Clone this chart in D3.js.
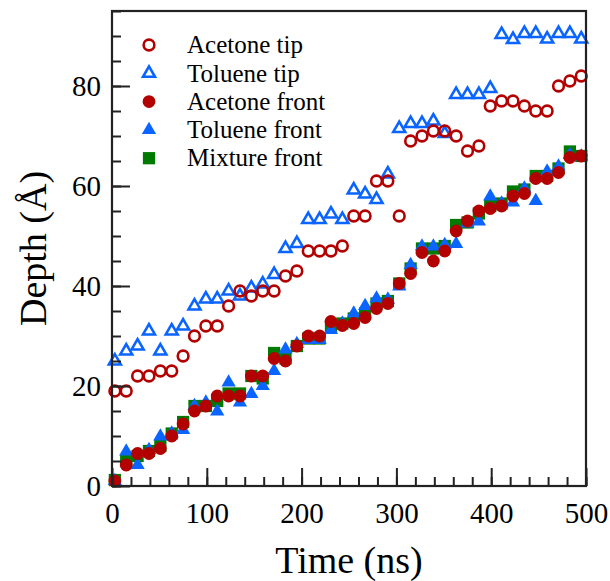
<!DOCTYPE html>
<html>
<head>
<meta charset="utf-8">
<script src="https://cdn.jsdelivr.net/npm/d3@7"></script>
<style>
  body { margin: 0; background: #fff; }
  text { font-family: "Liberation Serif", "Times New Roman", serif; }
</style>
</head>
<body>
<div id="chart"></div>
<script>
// sample times (ns)
const times = [3, 15, 27, 39, 51, 63, 75, 87, 99, 111, 123, 135, 147, 159, 171, 183, 195, 207, 219, 231, 243,
  255, 267, 279, 291, 303, 315, 327, 339, 351, 363, 375, 387, 399, 411, 423, 435, 447, 459, 471, 483, 495];

const acetoneTip = [19, 19, 22, 22, 23, 23, 26, 30, 32, 32, 36, 39, 38, 39, 39, 42, 43, 47, 47, 47, 48,
  54, 54, 61, 61, 54, 69, 70, 71, 71, 70, 67, 68, 76, 77, 77, 76, 75, 75, 80, 81, 82];
const tolueneTip = [25, 27, 28, 31, 27, 31, 32, 36, 37.4, 37.4, 39, 38, 39.6, 40.4, 42.3, 47.5, 48.5, 53.3, 53.3, 54.4, 53.3,
  59.2, 58.4, 57.3, 62.4, 71.5, 72.5, 72.5, 73, 70.5, 78.3, 78.3, 78.3, 79.5, 90.3, 89.3, 90.5, 90.5, 89.4, 90.5, 90.5, 89.4];
const acetoneFront = [1, 4.2, 6.5, 6.5, 7.5, 10, 12.4, 15, 16, 18, 18, 18, 22, 22, 25.5, 25, 28, 30, 30, 32.9, 32.1,
  32.5, 33.7, 35.5, 36.5, 40.5, 42.5, 46.7, 45, 47, 51, 53, 55, 55.5, 56, 58, 58.5, 61.5, 61.5, 62.7, 65.7, 66];
const tolueneFront = [1, 6.9, 4.2, 7.2, 9.9, 10.5, 11.2, 16, 16.7, 14.9, 20.7, 16.7, 18.4, 20, 23, 27.3, 28.4, 29.2, 29.2, 31.2, 32.5,
  34.5, 36, 37.5, 37.3, 39.9, 44.2, 47.9, 47.9, 48.2, 48.4, 52.5, 52.9, 57.9, 56.5, 56.7, 59.5, 57, 62.9, 63.9, 66.2, 65.9];
const mixtureFront = [1.2, 5, 6, 7, 8, 10.5, 12.8, 16, 16, 17, 18.5, 18.5, 22, 21.5, 26.6, 25.5, 28, 29.5, 29.5, 32, 32.5,
  33.5, 34.5, 36.5, 37, 40.5, 43.5, 47.5, 47.5, 48, 52.2, 52.7, 54.5, 56, 56.5, 58.9, 59.3, 62, 62, 63.5, 66.9, 66];

const xMajor = [0, 100, 200, 300, 400, 500];
const yMajor = [0, 20, 40, 60, 80];

const RED = '#b30000', BLUE = '#0a64ff', GREEN = '#007a00';

const series = [
  { name: 'Mixture front', vals: mixtureFront, shape: 'square', fill: GREEN, open: false, legend: 4 },
  { name: 'Toluene front', vals: tolueneFront, shape: 'triangle', fill: BLUE, open: false, legend: 3 },
  { name: 'Acetone front', vals: acetoneFront, shape: 'circle', fill: RED, open: false, legend: 2 },
  { name: 'Toluene tip', vals: tolueneTip, shape: 'triangle', fill: BLUE, open: true, legend: 1 },
  { name: 'Acetone tip', vals: acetoneTip, shape: 'circle', fill: RED, open: true, legend: 0 }
];

const W = 610, H = 581;
const m = { l: 112, r: 24, t: 11, b: 95 };
const iw = W - m.l - m.r, ih = H - m.t - m.b;

const svg = d3.select('#chart').append('svg').attr('width', W).attr('height', H);
const g = svg.append('g').attr('transform', `translate(${m.l},${m.t})`);

const x = d3.scaleLinear().domain([0, 500]).range([0, iw]);
const y = d3.scaleLinear().domain([0, 95]).range([ih, 0]);

function symbolPath(shape, open) {
  if (shape === 'circle') return d3.symbol(d3.symbolCircle, open ? 90 : 128)();
  if (shape === 'triangle') return d3.symbol(d3.symbolTriangle, open ? 62 : 88)();
  return d3.symbol(d3.symbolSquare, 150)();
}

function drawMark(sel, s) {
  sel.append('path')
    .attr('d', symbolPath(s.shape, s.open))
    .attr('fill', s.open ? 'none' : s.fill)
    .attr('stroke', s.open ? s.fill : 'none')
    .attr('stroke-width', s.open ? 2.6 : 0);
}

series.forEach(s => {
  const pts = g.append('g').selectAll('g').data(s.vals).join('g')
    .attr('transform', (d, i) => `translate(${x(times[i])},${y(d)})`);
  pts.each(function () { drawMark(d3.select(this), s); });
});

// axes: minor + major ticks pointing inward
const fs = 29;
g.append('g').attr('transform', `translate(0,${ih})`)
  .call(d3.axisBottom(x).tickValues(d3.range(0, 501, 20)).tickSize(-9).tickFormat(''))
  .call(a => a.select('.domain').remove());
g.append('g').attr('transform', `translate(0,${ih})`)
  .call(d3.axisBottom(x).tickValues(xMajor).tickSize(-18).tickPadding(16))
  .call(a => a.select('.domain').remove())
  .call(a => a.selectAll('text').attr('font-size', fs).attr('font-family', '"Liberation Serif", serif').attr('fill', '#000'));

g.append('g')
  .call(d3.axisLeft(y).tickValues(d3.range(0, 96, 5)).tickSize(-9).tickFormat(''))
  .call(a => a.select('.domain').remove());
g.append('g')
  .call(d3.axisLeft(y).tickValues(yMajor).tickSize(-18).tickPadding(11))
  .call(a => a.select('.domain').remove())
  .call(a => a.selectAll('text').attr('font-size', fs).attr('font-family', '"Liberation Serif", serif').attr('fill', '#000'));

g.selectAll('.tick line').attr('stroke', '#222').attr('stroke-width', 2);

g.append('rect').attr('width', iw).attr('height', ih)
  .attr('fill', 'none').attr('stroke', '#222').attr('stroke-width', 2.2);

// titles
svg.append('text')
  .attr('x', m.l + iw / 2).attr('y', 573)
  .attr('text-anchor', 'middle').attr('font-size', 38)
  .text('Time (ns)');
svg.append('text')
  .attr('transform', `translate(46,${m.t + ih / 2}) rotate(-90)`)
  .attr('text-anchor', 'middle').attr('font-size', 38)
  .text('Depth (Å)');

// legend
const legend = svg.append('g');
const legRows = [...series].sort((a, b) => a.legend - b.legend);
legRows.forEach((s, i) => {
  const row = legend.append('g').attr('transform', `translate(149,${45 + i * 28.3})`);
  drawMark(row, s);
  row.append('text').attr('x', 38).attr('dy', '0.33em')
    .attr('font-size', 25).text(s.name);
});
</script>
</body>
</html>
